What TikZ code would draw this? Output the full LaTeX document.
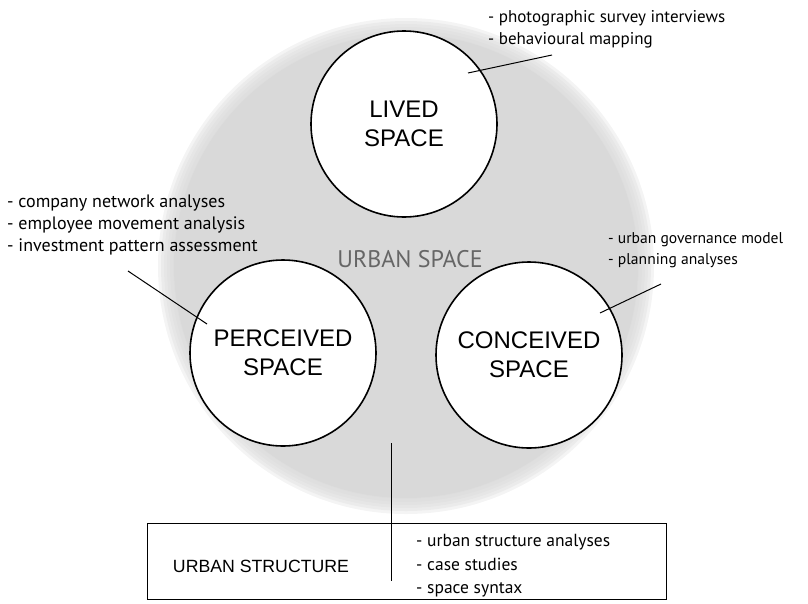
\documentclass[tikz,border=0pt]{standalone}
\usepackage{fontspec}
\setmainfont{Liberation Sans}
\newfontfamily\listfont{PT Sans}
\usetikzlibrary{positioning}
\tikzset{
  spacecircle/.style={circle, draw=black, line width=1.6pt, fill=white, minimum size=186pt, inner sep=0pt, align=center, font=\fontsize{24}{29}\selectfont},
  methods/.style={anchor=west, inner sep=0pt, align=left, font=\listfont\fontsize{17}{22}\selectfont},
  leader/.style={line width=1pt}
}

\begin{document}
\begin{tikzpicture}[x=1pt,y=-1pt]
\useasboundingbox (0,0) rectangle (808,603);
\foreach \r in {248,245,...,233} \fill[black!15, opacity=0.3] (406,266) circle (\r pt);
\fill[black!15] (406,266) circle (232pt);
\node[spacecircle] (lived) at (404,124) {LIVED\\SPACE};
\node[spacecircle] (perceived) at (283,353) {PERCEIVED\\SPACE};
\node[spacecircle] (conceived) at (529,355) {CONCEIVED\\SPACE};
\node[text=black!60, font=\listfont\fontsize{24}{24}\selectfont] (urban) at (410,259) {URBAN SPACE};
\node[methods] (livedlist) at (488,29) {- photographic survey interviews\\- behavioural mapping};
\node[methods, font=\listfont\fontsize{18}{22}\selectfont] (perceivedlist) at (7,225) {- company network analyses\\- employee movement analysis\\- investment pattern assessment};
\node[methods, font=\listfont\fontsize{15.6}{21}\selectfont] (conceivedlist) at (608,250) {- urban governance model\\- planning analyses};
\node[draw, line width=1.2pt, minimum width=519pt, minimum height=76pt, anchor=north west, inner sep=0pt] (structure) at (147,523) {};
\node[font=\fontsize{17.7}{17.7}\selectfont] (structurelabel) at (261,566) {URBAN STRUCTURE};
\node[methods, font=\listfont\fontsize{17.5}{23.5}\selectfont] (structurelist) at (416,566) {- urban structure analyses\\- case studies\\- space syntax};
\coordinate (livedpin) at (468,73);
\coordinate (livedend) at (552,55);
\coordinate (perceivedpin) at (207,324);
\coordinate (perceivedend) at (128,271);
\coordinate (conceivedpin) at (600,313);
\coordinate (conceivedend) at (661,284);
\coordinate (stemtop) at (391,443);
\coordinate (stembot) at (391,581);
\draw[leader] (livedpin) -- (livedend);
\draw[leader] (perceivedpin) -- (perceivedend);
\draw[leader] (conceivedpin) -- (conceivedend);
\draw[leader] (stemtop) -- (stembot);
\end{tikzpicture}
\end{document}
